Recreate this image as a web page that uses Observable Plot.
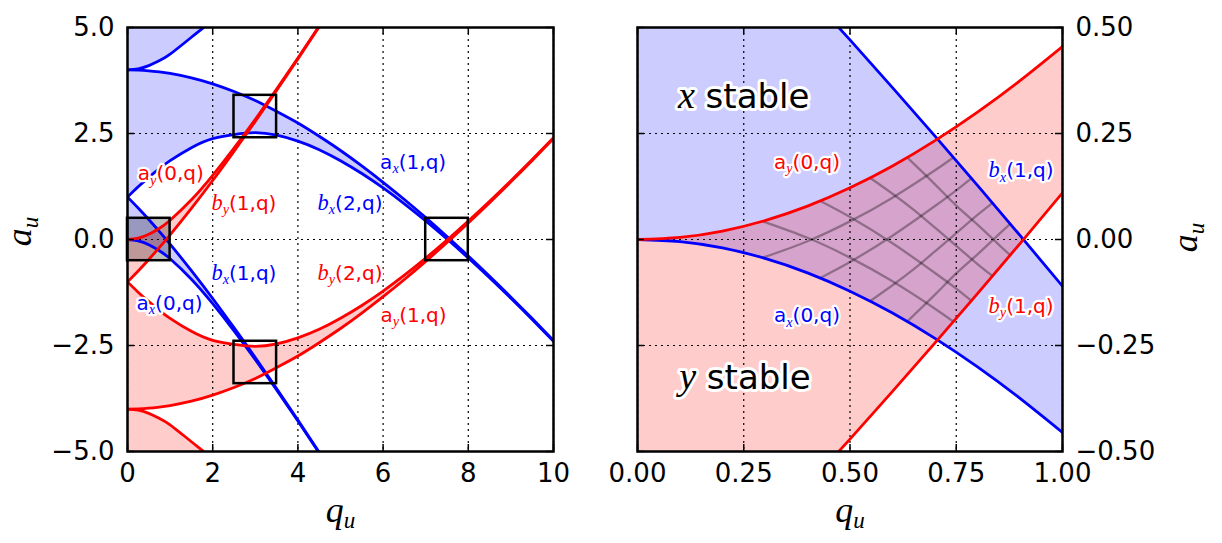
<!DOCTYPE html>
<html><head><meta charset="utf-8">
<script src="https://cdn.jsdelivr.net/npm/d3@7"></script>
<script src="https://cdn.jsdelivr.net/npm/@observablehq/plot@0.6"></script>
<style>
html,body{margin:0;padding:0;background:#fff;}
#wrap{position:relative;width:1222px;height:543px;overflow:hidden;}
#wrap svg{position:absolute;top:0;}
</style></head><body><div id="wrap"></div>
<script>
// ---------- data: Mathieu characteristic curves (x direction) ----------
const qL  = [0,0.25,0.5,0.75,1,1.5,2,2.5,3,3.5,4,4.5,5,5.5,6,6.5,7,7.5,8,8.5,9,9.5,10];
const ax0 = [0,-0.0310,-0.1218,-0.2658,-0.4551,-0.937,-1.5140,-2.155,-2.8344,-3.547,-4.2809,-5.034,-5.8000];
const bx1 = [1,0.7424,0.4707,0.1860,-0.1102,-0.734,-1.3907,-2.079,-2.7854,-3.516,-4.260,-5.020,-5.7901];
const ax1 = [1,1.2420,1.4668,1.6730,1.8591,2.166,2.3793,2.475,2.5190,2.46,2.32,2.119,1.8582,1.556,1.216,0.841,0.438,0.012,-0.437,-0.904,-1.388,-1.887,-2.399];
const bx2 = [4,3.9948,3.9792,3.9533,3.9170,3.8143,3.6722,3.492,3.2769,3.02,2.747,2.434,2.0995,1.736,1.349,0.943,0.516,0.070,-0.391,-0.868,-1.360,-1.865,-2.382];
const ax2 = [4,4.0258,4.1009,4.2192,4.3713,4.77,5.1721,5.6];
// y direction (a_y = -a_x)
const ay0 = [0,0.0310,0.1218,0.2658,0.4551,0.937,1.5140,2.155,2.8344,3.547,4.2809,5.034,5.8000];
const by1 = [-1,-0.7424,-0.4707,-0.1860,0.1102,0.734,1.3907,2.079,2.7854,3.516,4.260,5.020,5.7901];
const ay1 = [-1,-1.2420,-1.4668,-1.6730,-1.8591,-2.166,-2.3793,-2.475,-2.5190,-2.46,-2.32,-2.119,-1.8582,-1.556,-1.216,-0.841,-0.438,-0.012,0.437,0.904,1.388,1.887,2.399];
const by2 = [-4,-3.9948,-3.9792,-3.9533,-3.9170,-3.8143,-3.6722,-3.492,-3.2769,-3.02,-2.747,-2.434,-2.0995,-1.736,-1.349,-0.943,-0.516,-0.070,0.391,0.868,1.360,1.865,2.382];
const ay2 = [-4,-4.0258,-4.1009,-4.2192,-4.3713,-4.77,-5.1721,-5.6];

// zoomed panel
const qR   = [0,0.1,0.2,0.3,0.4,0.5,0.6,0.7,0.8,0.9,1.0];
const ax0R = [0,-0.0050,-0.0199,-0.0446,-0.0786,-0.1218,-0.1734,-0.2332,-0.3004,-0.3746,-0.4551];
const bx1R = [1,0.8988,0.7951,0.6892,0.5810,0.4707,0.3583,0.2439,0.1277,0.0096,-0.1102];
const ay0R = [0,0.0050,0.0199,0.0446,0.0786,0.1218,0.1734,0.2332,0.3004,0.3746,0.4551];
const by1R = [-1,-0.8988,-0.7951,-0.6892,-0.5810,-0.4707,-0.3583,-0.2439,-0.1277,-0.0096,0.1102];

// iso-beta hatch lines inside the overlap region
const hatchQ = [
  [0.2945,0.4,0.5,0.6,0.7,0.743],
  [0.43,0.5,0.6,0.7,0.75,0.786],
  [0.5475,0.6,0.65,0.7,0.75,0.8,0.835],
  [0.635,0.7,0.75,0.8,0.85,0.877]
];
const hatchAx = [
  [0.0429,0.004,-0.0428,-0.0987,-0.1632,-0.1935],
  [0.0906,0.053,-0.009,-0.079,-0.116,-0.145],
  [0.1453,0.108,0.070,0.028,-0.015,-0.058,-0.086],
  [0.193,0.13,0.08,0.035,-0.012,-0.037]
];
const hatchAy = [
  [-0.0429,-0.004,0.0428,0.0987,0.1632,0.1935],
  [-0.0906,-0.053,0.009,0.079,0.116,0.145],
  [-0.1453,-0.108,-0.070,-0.028,0.015,0.058,0.086],
  [-0.193,-0.13,-0.08,-0.035,0.012,0.037]
];

// boxes on the left panel
const boxQ1 = [0,2.5,2.5,7], boxQ2 = [1,3.5,3.5,8];
const boxA1 = [-0.5,2.4,-3.4,-0.5], boxA2 = [0.5,3.4,-2.4,0.5];

// ticks
const xTicksL = [0,2,4,6,8,10], yTicksL = [-5,-2.5,0,2.5,5];
const xTicksR = [0,0.25,0.5,0.75,1], yTicksR = [-0.5,-0.25,0,0.25,0.5];

// annotations
const labBlueL = [
  {q:4.46,a:0.85,t:"$b$_x(2,q)"},{q:5.93,a:1.82,t:"a_x(1,q)"},
  {q:1.97,a:-0.80,t:"$b$_x(1,q)"},{q:0.21,a:-1.50,t:"a_x(0,q)"}];
const labRedL = [
  {q:0.24,a:1.55,t:"a_y(0,q)"},{q:1.97,a:0.85,t:"$b$_y(1,q)"},
  {q:4.46,a:-0.80,t:"$b$_y(2,q)"},{q:5.94,a:-1.79,t:"a_y(1,q)"}];
const labBlueR = [{q:0.826,a:0.162,t:"$b$_x(1,q)"},{q:0.321,a:-0.18,t:"a_x(0,q)"}];
const labRedR  = [{q:0.321,a:0.182,t:"a_y(0,q)"},{q:0.826,a:-0.158,t:"$b$_y(1,q)"}];
const labBig   = [{q:0.095,a:0.335,t:"$x$ stable"},{q:0.098,a:-0.328,t:"$y$ stable"}];

// ---------- helpers ----------
const BLUE = "#0000ff", RED = "#ff0000";
const band = (qs, lo, hi) => lo.map((v,i)=>({q:qs[i], lo:v, hi:Array.isArray(hi)?hi[i]:hi}));
const curve = (qs, vs) => vs.map((v,i)=>({q:qs[i], v}));
const boxes = boxQ1.map((q1,i)=>({q1, q2:boxQ2[i], a1:boxA1[i], a2:boxA2[i]}));
const hatchRows = [];
hatchQ.forEach((qs,k)=>{
  qs.forEach((q,i)=>hatchRows.push({id:"x"+k,q,a:hatchAx[k][i]}));
  qs.forEach((q,i)=>hatchRows.push({id:"y"+k,q,a:hatchAy[k][i]}));
});

function areaM(data, fill){ return Plot.areaY(data,{x:"q",y1:"lo",y2:"hi",fill,fillOpacity:0.2,curve:"natural",clip:true}); }
function lineM(data, stroke){ return Plot.line(data,{x:"q",y:"v",stroke,strokeWidth:2.8,curve:"natural",clip:true}); }
function gridDeco(xt, yt){
  return [
    Plot.gridX(xt,{stroke:"black",strokeOpacity:1,strokeWidth:1.2,strokeDasharray:"2,4"}),
    Plot.gridY(yt,{stroke:"black",strokeOpacity:1,strokeWidth:1.2,strokeDasharray:"2,4"}),
  ];
}
function ticksDeco(xt, yt, fw, fh, xfmt, yfmt, yAnchor){
  const L = 7;
  return [
    Plot.tickX(xt,{x:d=>d,insetTop:fh-L,stroke:"black",strokeWidth:1.5}),
    Plot.tickX(xt,{x:d=>d,insetBottom:fh-L,stroke:"black",strokeWidth:1.5}),
    Plot.tickY(yt,{y:d=>d,insetRight:fw-L,stroke:"black",strokeWidth:1.5}),
    Plot.tickY(yt,{y:d=>d,insetLeft:fw-L,stroke:"black",strokeWidth:1.5}),
    Plot.frame({stroke:"black",strokeWidth:2.5}),
    Plot.axisX(xt,{tickSize:0,tickPadding:12,fontSize:26,tickFormat:xfmt,label:null}),
    Plot.axisY(yt,{anchor:yAnchor,tickSize:0,tickPadding:13,fontSize:26,tickFormat:yfmt,label:null})
  ];
}
function labelM(data, fill, size){
  return Plot.text(data,{x:"q",y:"a",text:"t",fill,fontSize:size,textAnchor:"start",stroke:"white",strokeWidth:size>22?6:4.5,paintOrder:"stroke"});
}
function axisLabel(anchor, dx, dy, rotate, txt){
  return Plot.text([0],{frameAnchor:anchor,dx,dy,rotate,text:()=>txt,fontSize:32,fill:"black",textAnchor:"middle"});
}

// ---------- left panel ----------
const fwL = 426, fhL = 424;
const left = Plot.plot({
  width:590, height:543, marginLeft:127, marginRight:37, marginTop:27, marginBottom:92,
  x:{domain:[0,10]}, y:{domain:[-5,5]},
  style:{fontFamily:"DejaVu Sans", background:"transparent", overflow:"visible"},
  marks:[
    areaM(band(qL,ax0,bx1),BLUE),
    areaM(band(qL,ax1,bx2),BLUE),
    areaM(band(qL,ax2,5),BLUE),
    areaM(band(qL,by1,ay0),RED),
    areaM(band(qL,by2,ay1),RED),
    areaM(band(qL,ay2,-5),RED),
    Plot.rect(boxes.slice(0,1),{x1:"q1",x2:"q2",y1:"a1",y2:"a2",fill:"black",fillOpacity:0.25}),
    ...gridDeco(xTicksL,yTicksL),
    lineM(curve(qL,ax0),BLUE), lineM(curve(qL,bx1),BLUE), lineM(curve(qL,ax1),BLUE),
    lineM(curve(qL,bx2),BLUE), lineM(curve(qL,ax2),BLUE),
    lineM(curve(qL,ay0),RED), lineM(curve(qL,by1),RED), lineM(curve(qL,ay1),RED),
    lineM(curve(qL,by2),RED), lineM(curve(qL,ay2),RED),
    Plot.rect(boxes,{x1:"q1",x2:"q2",y1:"a1",y2:"a2",fill:"none",stroke:"black",strokeWidth:2.5}),
    ...ticksDeco(xTicksL,yTicksL,fwL,fhL,d3.format("d"),d3.format(".1f"),"left"),
    labelM(labBlueL,BLUE,20), labelM(labRedL,RED,20),
    axisLabel("left",-107,-8,-90,"$a$_u"),
    axisLabel("bottom",0,70,0,"$q$_u")
  ]
});
left.style.left = "0px";

// ---------- right panel ----------
const fwR = 425, fhR = 424;
const right = Plot.plot({
  width:632, height:543, marginLeft:47, marginRight:160, marginTop:27, marginBottom:92,
  x:{domain:[0,1]}, y:{domain:[-0.5,0.5]},
  style:{fontFamily:"DejaVu Sans", background:"transparent", overflow:"visible"},
  marks:[
    areaM(band(qR,ax0R,bx1R),BLUE),
    areaM(band(qR,by1R,ay0R),RED),
    Plot.line(hatchRows,{x:"q",y:"a",z:"id",stroke:"black",strokeOpacity:0.33,strokeWidth:2.3,curve:"natural",clip:true}),
    ...gridDeco(xTicksR,yTicksR),
    lineM(curve(qR,ax0R),BLUE), lineM(curve(qR,bx1R),BLUE),
    lineM(curve(qR,ay0R),RED), lineM(curve(qR,by1R),RED),
    ...ticksDeco(xTicksR,yTicksR,fwR,fhR,d3.format(".2f"),d3.format(".2f"),"right"),
    labelM(labBlueR,BLUE,20), labelM(labRedR,RED,20),
    labelM(labBig,"black",34),
    axisLabel("right",124,-2,-90,"$a$_u"),
    axisLabel("bottom",0,70,0,"$q$_u")
  ]
});
right.style.left = "590px";

// ---------- rich text (italic math + subscripts) ----------
const NS = "http://www.w3.org/2000/svg";
function richify(svg){
  svg.querySelectorAll("text").forEach(el=>{
    const s = el.textContent;
    if(!/[_$]/.test(s)) return;
    const runs = []; let it = false, cur = "", i = 0;
    const push = ()=>{ if(cur) runs.push({text:cur, italic:it, sub:false}); cur=""; };
    while(i < s.length){
      const ch = s[i];
      if(ch === "$"){ push(); it = !it; i++; continue; }
      if(ch === "_"){ push(); runs.push({text:s[i+1], italic:true, sub:true}); i += 2; continue; }
      cur += ch; i++;
    }
    push();
    while(el.firstChild) el.removeChild(el.firstChild);
    let shifted = false;
    runs.forEach(r=>{
      const ts = document.createElementNS(NS,"tspan");
      ts.textContent = r.text;
      if(r.italic){ ts.setAttribute("font-family","Liberation Serif, DejaVu Serif, serif"); ts.setAttribute("font-style","italic"); }
      if(r.sub){ ts.setAttribute("font-size","72%"); ts.setAttribute("dy","0.3em"); shifted = true; }
      else {
        if(r.italic) ts.setAttribute("font-size","112%");
        if(shifted){ ts.setAttribute("dy", r.italic ? "-0.193em" : "-0.216em"); shifted = false; }
      }
      el.appendChild(ts);
    });
  });
}
richify(left); richify(right);
const wrap = document.getElementById("wrap");
wrap.appendChild(left); wrap.appendChild(right);
</script></body></html>
